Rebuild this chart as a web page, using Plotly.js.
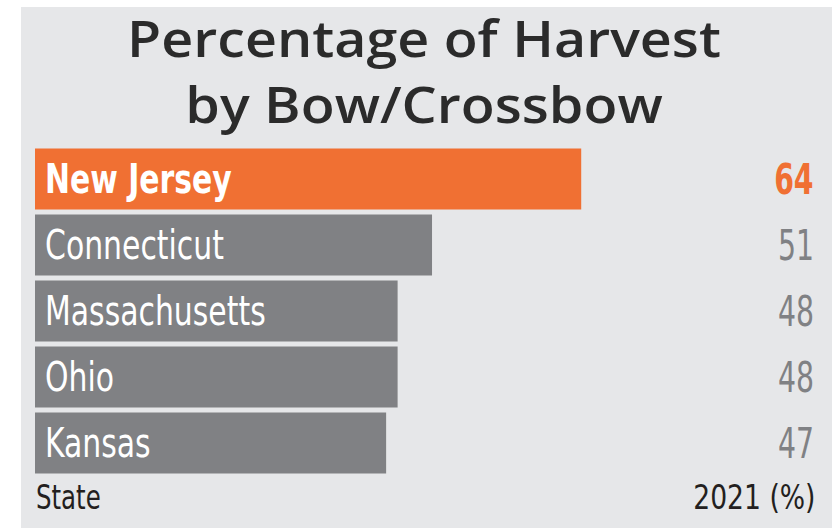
<!DOCTYPE html>
<html>
<head>
<meta charset="utf-8">
<script src="https://cdn.plot.ly/plotly-3.0.1.min.js"></script>
<style>
  html, body { margin: 0; padding: 0; background: #ffffff; width: 839px; height: 528px; overflow: hidden; }
  #chart { position: absolute; left: 21px; top: 7px; width: 811px; height: 521px; }
</style>
</head>
<body>
<div id="chart"></div>
<script>
const states = ["New Jersey", "Connecticut", "Massachusetts", "Ohio", "Kansas"];
const values = [64, 51, 48, 48, 47];
const highlight = "New Jersey";
const titleText = "Percentage of Harvest<br>by Bow/Crossbow";
const xAxisLabel = "State";
const valueLabel = "2021 (%)";

const ORANGE = "#f07033";
const GRAY = "#808184";
const BG = "#e6e7e9";
const NARROW = '"DejaVu Sans Condensed", "Liberation Sans Narrow", sans-serif';
const AXMIN = 16.4, AXMAX = 84.2;

const colors = states.map(s => s === highlight ? ORANGE : GRAY);

const trace = {
  type: "bar",
  orientation: "h",
  x: values.map(v => v - AXMIN),
  base: AXMIN,
  y: states,
  marker: { color: colors, line: { width: 0 } },
  hoverinfo: "skip"
};

const annotations = [];
const condenseSpec = [];
states.forEach((s, i) => {
  const hl = s === highlight;
  annotations.push({
    xref: "x", yref: "y", x: AXMIN, y: s,
    xanchor: "left", yanchor: "middle", xshift: 8,
    text: hl ? "<b>" + s + "</b>" : s,
    showarrow: false,
    font: { family: NARROW, size: 40, color: "#ffffff" }
  });
  condenseSpec.push([annotations.length - 1, 0.83, "left"]);
  annotations.push({
    xref: "paper", yref: "y", x: 1, y: s,
    xanchor: "right", yanchor: "middle", xshift: 3,
    text: hl ? "<b>" + values[i] + "</b>" : String(values[i]),
    showarrow: false,
    font: { family: NARROW, size: 42, color: hl ? ORANGE : GRAY }
  });
  condenseSpec.push([annotations.length - 1, 0.75, "right"]);
});
annotations.push({
  xref: "paper", yref: "paper", x: 0, y: 0, xanchor: "left", yanchor: "top",
  xshift: -1, yshift: 1,
  text: xAxisLabel, showarrow: false,
  font: { family: NARROW, size: 34, color: "#231f20" }
});
condenseSpec.push([annotations.length - 1, 0.8, "left"]);
annotations.push({
  xref: "paper", yref: "paper", x: 1, y: 0, xanchor: "right", yanchor: "top",
  xshift: 4, yshift: 1,
  text: valueLabel, showarrow: false,
  font: { family: NARROW, size: 34, color: "#231f20" }
});
condenseSpec.push([annotations.length - 1, 0.87, "right"]);

const layout = {
  width: 811, height: 521,
  paper_bgcolor: BG, plot_bgcolor: BG,
  margin: { l: 14, r: 19, t: 139, b: 52 },
  title: {
    text: titleText,
    font: { family: "'Open Sans', Lato, sans-serif", size: 51, color: "#2b2b2b", weight: 600 },
    x: 0.5, xanchor: "center", xref: "paper",
    y: 0.905, yanchor: "top", yref: "container"
  },
  xaxis: { range: [AXMIN, AXMAX], visible: false, fixedrange: true },
  yaxis: {
    type: "category", categoryorder: "array", categoryarray: states,
    autorange: "reversed", visible: false, fixedrange: true
  },
  bargap: 0.076,
  showlegend: false,
  annotations: annotations
};

function hscale(el, f, anchor) {
  const bb = el.getBBox();
  const pivot = anchor === "left" ? bb.x : anchor === "right" ? bb.x + bb.width : bb.x + bb.width / 2;
  el.setAttribute("transform",
    "translate(" + pivot + ",0) scale(" + f + ",1) translate(" + (-pivot) + ",0)");
}

function condense(gd) {
  condenseSpec.forEach(([idx, f, anchor]) => {
    const el = gd.querySelector('.annotation[data-index="' + idx + '"] text.annotation-text');
    if (el) hscale(el, f, anchor);
  });
  const t = gd.querySelector("text.gtitle");
  if (t) hscale(t, 1.09, "center");
}

Plotly.newPlot("chart", [trace], layout, { displayModeBar: false, staticPlot: true })
  .then(gd => condense(gd));
</script>
</body>
</html>
